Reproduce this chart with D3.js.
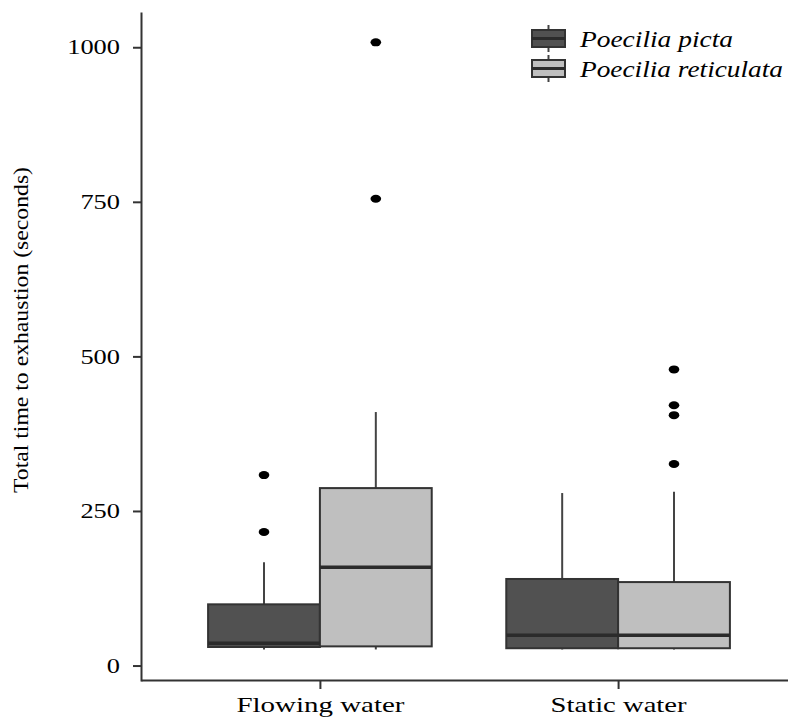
<!DOCTYPE html>
<html>
<head>
<meta charset="utf-8">
<script src="https://cdn.jsdelivr.net/npm/d3@7"></script>
<style>
  body { margin: 0; background: #fff; }
  svg { display: block; }
  text { font-family: "Liberation Serif", serif; fill: #000; }
</style>
</head>
<body>
<svg></svg>
<script>
const width = 788;
const height = 718;

// data (seconds)
const groups = ['Flowing water', 'Static water'];
const species = ['Poecilia picta', 'Poecilia reticulata'];
const yTicks = [0, 250, 500, 750, 1000];

// [group, species, low whisker, q1, median, q3, high whisker]
const boxStats = [
  ['Flowing water', 'Poecilia picta', 26, 30, 36, 99, 167],
  ['Flowing water', 'Poecilia reticulata', 26, 31, 159, 287, 410],
  ['Static water', 'Poecilia picta', 26, 28, 49, 140, 279],
  ['Static water', 'Poecilia reticulata', 26, 28, 49, 135, 281]
];

const outliers = [
  ['Flowing water', 'Poecilia picta', 308],
  ['Flowing water', 'Poecilia picta', 216],
  ['Flowing water', 'Poecilia reticulata', 1008],
  ['Flowing water', 'Poecilia reticulata', 755],
  ['Static water', 'Poecilia reticulata', 479],
  ['Static water', 'Poecilia reticulata', 421],
  ['Static water', 'Poecilia reticulata', 405],
  ['Static water', 'Poecilia reticulata', 326]
];

const fills = ['#515151', '#bfbfbf'];

const svg = d3.select('svg')
  .attr('width', width)
  .attr('height', height);

const x = d3.scalePoint()
  .domain(groups)
  .range([141, 797])
  .padding(0.6);

const step = x.step();
const dodge = d3.scaleBand()
  .domain(species)
  .range([-0.375 * step, 0.375 * step]);

const y = d3.scaleLinear()
  .domain([-25, 1057])
  .range([681, 12]);

const color = d3.scaleOrdinal().domain(species).range(fills);

const boxes = boxStats.map(d => ({
  group: d[0], sp: d[1], lo: d[2], q1: d[3], med: d[4], q3: d[5], hi: d[6]
}));

const cx = d => x(d.group) + dodge(d.sp) + dodge.bandwidth() / 2;

// whiskers
svg.append('g').selectAll('line').data(boxes)
  .enter().append('line')
    .attr('x1', cx).attr('x2', cx)
    .attr('y1', d => y(d.lo))
    .attr('y2', d => y(d.hi))
    .attr('stroke', '#444')
    .attr('stroke-width', 2);

// boxes
svg.append('g').selectAll('rect').data(boxes)
  .enter().append('rect')
    .attr('x', d => x(d.group) + dodge(d.sp))
    .attr('width', dodge.bandwidth())
    .attr('y', d => y(d.q3))
    .attr('height', d => y(d.q1) - y(d.q3))
    .attr('fill', d => color(d.sp))
    .attr('stroke', '#333')
    .attr('stroke-width', 2);

// medians
svg.append('g').selectAll('line').data(boxes)
  .enter().append('line')
    .attr('x1', d => x(d.group) + dodge(d.sp))
    .attr('x2', d => x(d.group) + dodge(d.sp) + dodge.bandwidth())
    .attr('y1', d => y(d.med))
    .attr('y2', d => y(d.med))
    .attr('stroke', '#2b2b2b')
    .attr('stroke-width', 3.5);

// outliers
svg.append('g').selectAll('ellipse').data(outliers)
  .enter().append('ellipse')
    .attr('cx', d => x(d[0]) + dodge(d[1]) + dodge.bandwidth() / 2)
    .attr('cy', d => y(d[2]))
    .attr('rx', 5.3)
    .attr('ry', 4)
    .attr('fill', '#000');

// axes
const yAxis = svg.append('g')
  .attr('transform', 'translate(141,0)')
  .call(d3.axisLeft(y).tickValues(yTicks).tickFormat(d3.format('d'))
    .tickSize(8).tickSizeOuter(0).tickPadding(13));

const xAxis = svg.append('g')
  .attr('transform', 'translate(0,680)')
  .call(d3.axisBottom(x).tickSize(9).tickSizeOuter(0).tickPadding(8));

[yAxis, xAxis].forEach(a => {
  a.attr('font-family', null);
  a.select('.domain').attr('stroke', '#333').attr('stroke-width', 2);
  a.selectAll('.tick line').attr('stroke', '#333').attr('stroke-width', 2);
});

yAxis.selectAll('.tick text')
  .style('font-size', '21px')
  .attr('fill', '#000')
  .attr('textLength', d => String(d).length * 13.2)
  .attr('lengthAdjust', 'spacingAndGlyphs');

const xLen = {'Flowing water': 168, 'Static water': 136};
xAxis.selectAll('.tick text')
  .style('font-size', '21px')
  .attr('fill', '#000')
  .attr('textLength', d => xLen[d])
  .attr('lengthAdjust', 'spacingAndGlyphs');

// y title
svg.append('text')
  .attr('transform', 'translate(28,330) rotate(-90)')
  .attr('text-anchor', 'middle')
  .attr('textLength', 326)
  .attr('lengthAdjust', 'spacingAndGlyphs')
  .style('font-size', '20px')
  .text('Total time to exhaustion (seconds)');

// legend
const legend = svg.append('g').selectAll('g').data(species)
  .enter().append('g')
    .attr('transform', (d, i) => `translate(532,${30 + i * 30})`);

legend.append('line')
  .attr('x1', 16.5).attr('x2', 16.5)
  .attr('y1', -5).attr('y2', 22)
  .attr('stroke', '#444').attr('stroke-width', 2);

legend.append('rect')
  .attr('width', 33).attr('height', 17)
  .attr('fill', d => color(d))
  .attr('stroke', '#333').attr('stroke-width', 2);

legend.append('line')
  .attr('x1', 0).attr('x2', 33)
  .attr('y1', 8.5).attr('y2', 8.5)
  .attr('stroke', '#2b2b2b').attr('stroke-width', 3);

const legendLen = [153, 203];
legend.append('text')
  .attr('x', 48)
  .attr('y', 9)
  .attr('dy', '0.35em')
  .attr('textLength', (d, i) => legendLen[i])
  .attr('lengthAdjust', 'spacingAndGlyphs')
  .style('font-size', '23px')
  .style('font-style', 'italic')
  .text(d => d);
</script>
</body>
</html>
